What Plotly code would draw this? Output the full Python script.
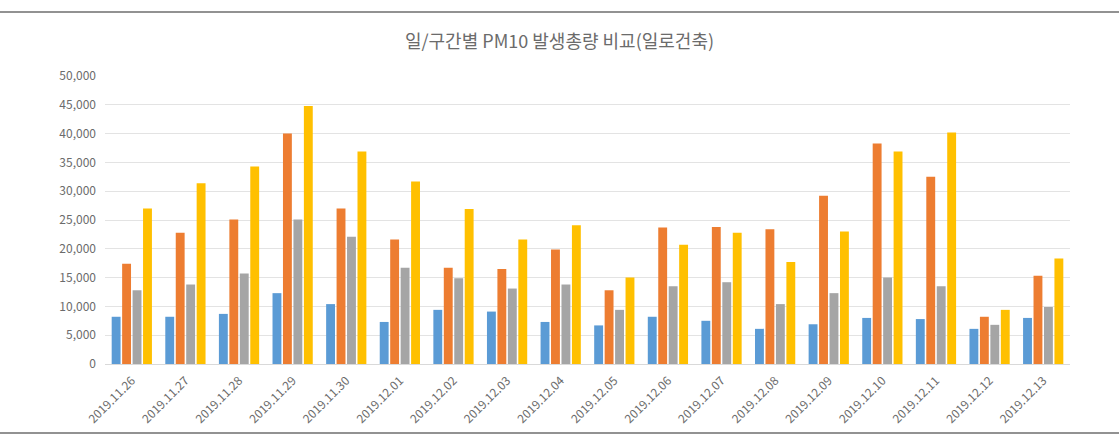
import plotly.graph_objects as go

dates = ["2019.11.26", "2019.11.27", "2019.11.28", "2019.11.29", "2019.11.30", "2019.12.01",
         "2019.12.02", "2019.12.03", "2019.12.04", "2019.12.05", "2019.12.06", "2019.12.07",
         "2019.12.08", "2019.12.09", "2019.12.10", "2019.12.11", "2019.12.12", "2019.12.13"]

series_a = [8200, 8200, 8700, 12300, 10400, 7300, 9400, 9100, 7300, 6700, 8200, 7500,
            6100, 6900, 8000, 7800, 6100, 8000]
series_b = [17400, 22800, 25100, 40000, 27000, 21600, 16700, 16500, 19900, 12800, 23700, 23800,
            23400, 29200, 38300, 32500, 8200, 15300]
series_c = [12800, 13800, 15700, 25100, 22100, 16700, 14900, 13100, 13800, 9400, 13500, 14200,
            10400, 12300, 15000, 13500, 6800, 9900]
series_d = [27000, 31400, 34300, 44800, 36900, 31700, 26900, 21600, 24100, 15000, 20700, 22800,
            17700, 23000, 36900, 40200, 9400, 18300]

names = ["계열1", "계열2", "계열3", "계열4"]
colors = ["#5B9BD5", "#ED7D31", "#A5A5A5", "#FFC000"]

fig = go.Figure()
for nm, vals, col in zip(names, [series_a, series_b, series_c, series_d], colors):
    fig.add_trace(go.Bar(x=dates, y=vals, name=nm, marker=dict(color=col, line=dict(width=0))))

L, R, T, B = 105, 49, 76, 76
W, H = 1119, 440
pw, ph = W - L - R, H - T - B

fig.update_layout(
    width=W, height=H,
    margin=dict(l=L, r=R, t=T, b=B),
    paper_bgcolor="white", plot_bgcolor="white",
    barmode="group", bargap=0.22, bargroupgap=0.15,
    showlegend=False,
    font=dict(family="Noto Sans CJK KR, Noto Sans, sans-serif", color="#6B6B6B", size=11),
    title=dict(text="일/구간별 PM10 발생총량 비교(일로건축)", x=0.5, xanchor="center",
               y=1 - 42 / H, yanchor="middle",
               font=dict(size=18, color="#6B6B6B", family="Noto Sans CJK KR, sans-serif")),
    xaxis=dict(type="category", tickangle=-45, showgrid=False, showline=True,
               linecolor="#D9D9D9", ticks="", ticklabelstandoff=4,
               tickfont=dict(size=12, color="#6B6B6B")),
    yaxis=dict(range=[0, 50000], dtick=5000, tickformat=",", showgrid=True,
               gridcolor="#E3E3E3", zeroline=False, showline=False, ticks="",
               ticklabelstandoff=8,
               tickfont=dict(size=12, color="#6B6B6B")),
)

# border lines at top and bottom of the image
for ypix in (12, 433):
    yp = (H - B - ypix) / ph
    fig.add_shape(type="line", xref="paper", yref="paper",
                  x0=-L / pw, x1=(W - L) / pw, y0=yp, y1=yp,
                  line=dict(color="#6E6E6E", width=1.5))

fig.write_html("out.html")
